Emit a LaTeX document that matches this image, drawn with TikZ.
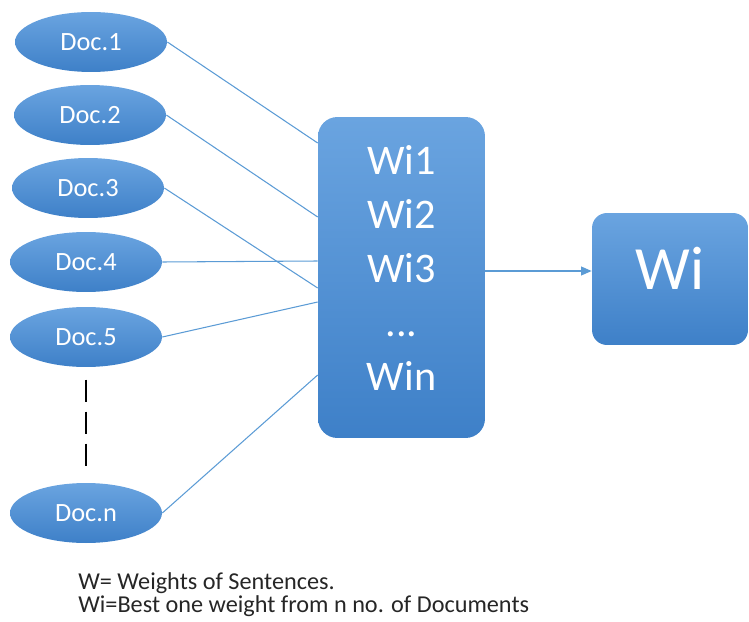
\documentclass[tikz,border=0pt]{standalone}
\usepackage{fontspec}
\setmainfont{Carlito}
\usetikzlibrary{shapes.geometric,arrows.meta}
\definecolor{boxtop}{RGB}{106,164,224}
\definecolor{boxbot}{RGB}{62,128,200}
\definecolor{linkblue}{RGB}{91,155,213}
\tikzset{
	doc/.style={ellipse, minimum width=3.04cm, minimum height=1.2cm, inner sep=0pt, top color=boxtop, bottom color=boxbot, draw=none, text=white, font=\fontsize{15}{15}\selectfont},
	roundbox/.style={rectangle, rounded corners=11pt, inner sep=0pt, top color=boxtop, bottom color=boxbot},
	link/.style={line width=0.6pt, color=linkblue}
}

\begin{document}
\begin{tikzpicture}[x=0.02cm, y=-0.02cm]
			%%%%% START %%%%%
			\useasboundingbox (0, 0) rectangle (749, 621);
			
			\node[doc] (doc1) at (91, 42) {Doc.1};
			\node[doc] (doc2) at (90, 115) {Doc.2};
			\node[doc] (doc3) at (88, 188) {Doc.3};
			\node[doc] (doc4) at (86, 262) {Doc.4};
			\node[doc] (doc5) at (86, 337) {Doc.5};
			\node[doc] (docn) at (86, 513) {Doc.n};
			
			\draw[line width=0.85pt, dash pattern=on 12.5pt off 5.7pt, shorten <=7pt, shorten >=8pt] (doc5.south) -- (docn.north);
			
			\node[roundbox, minimum width=3.34cm, minimum height=6.42cm] (box) at (401.5, 277.5) {};
			\node[align=center, text=white, font=\fontsize{24}{30.6}\selectfont] (wlist) at (401.5, 268) {Wi1\\Wi2\\Wi3\\...\\Win};
			
			\node[roundbox, rounded corners=8.5pt, minimum width=3.12cm, minimum height=2.64cm] (wi) at (670, 279) {};
			\node[text=white, font=\fontsize{35}{35}\selectfont] (wibest) at (670, 268) {Wi};
			
			\draw[link] (doc1.east) -- (box.west |- 0,143);
			\draw[link] (doc2.east) -- (box.west |- 0,217);
			\draw[link] (doc3.east) -- (box.west |- 0,288);
			\draw[link] (doc4.east) -- (box.west |- 0,261);
			\draw[link] (doc5.east) -- (box.west |- 0,302);
			\draw[link] (docn.east) -- (box.west |- 0,375);
			
			\draw[link, line width=0.8pt, -{Triangle[length=6pt, width=5pt]}] (box.east |- 0,271) -- (wi.west |- 0,271);
			
			\node[anchor=north west, align=left, text=black!85, font=\fontsize{13.8}{13.2}\selectfont, inner sep=0pt] (legend) at (78, 572) {W= Weights of Sentences.\\Wi=Best one weight from n no. of Documents};
			%%%%% END %%%%%
\end{tikzpicture}
\end{document}
